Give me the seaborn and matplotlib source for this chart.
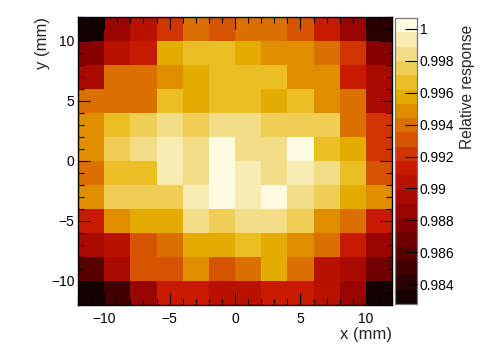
import numpy as np
import pandas as pd
import seaborn as sns
import matplotlib
matplotlib.use("Agg")
import matplotlib.pyplot as plt
from matplotlib.colors import ListedColormap
from matplotlib.ticker import FixedLocator

# x / y bin edges (mm)
x_edges = [-12, -10, -8, -6, -4, -2, 0, 2, 4, 6, 8, 10, 12]
y_edges = [12, 10, 8, 6, 4, 2, 0, -2, -4, -6, -8, -10, -12]  # rows listed top -> bottom

# relative response, rows from y=+12 (top) to y=-12 (bottom), columns from x=-12 to x=+12
row_y11 = [0.9832, 0.9886, 0.9904, 0.9922, 0.9940, 0.9931, 0.9940, 0.9940, 0.9931, 0.9913, 0.9886, 0.9841]
row_y9  = [0.9877, 0.9904, 0.9913, 0.9958, 0.9967, 0.9967, 0.9958, 0.9949, 0.9949, 0.9940, 0.9922, 0.9877]
row_y7  = [0.9895, 0.9940, 0.9940, 0.9949, 0.9958, 0.9967, 0.9967, 0.9967, 0.9949, 0.9949, 0.9913, 0.9895]
row_y5  = [0.9940, 0.9940, 0.9940, 0.9967, 0.9958, 0.9967, 0.9967, 0.9958, 0.9967, 0.9949, 0.9940, 0.9895]
row_y3  = [0.9949, 0.9967, 0.9975, 0.9984, 0.9975, 0.9984, 0.9984, 0.9975, 0.9975, 0.9975, 0.9940, 0.9922]
row_y1  = [0.9949, 0.9975, 0.9984, 0.9993, 0.9984, 1.0002, 0.9984, 0.9984, 1.0002, 0.9967, 0.9958, 0.9922]
row_ym1 = [0.9940, 0.9967, 0.9967, 0.9993, 0.9984, 1.0002, 0.9993, 0.9984, 0.9993, 0.9984, 0.9967, 0.9931]
row_ym3 = [0.9949, 0.9975, 0.9975, 0.9975, 0.9993, 1.0002, 0.9993, 1.0002, 0.9984, 0.9975, 0.9958, 0.9949]
row_ym5 = [0.9913, 0.9949, 0.9958, 0.9958, 0.9984, 0.9975, 0.9984, 0.9984, 0.9975, 0.9949, 0.9940, 0.9913]
row_ym7 = [0.9895, 0.9904, 0.9931, 0.9940, 0.9958, 0.9958, 0.9967, 0.9958, 0.9949, 0.9940, 0.9913, 0.9886]
row_ym9 = [0.9859, 0.9895, 0.9931, 0.9931, 0.9949, 0.9931, 0.9940, 0.9958, 0.9940, 0.9904, 0.9895, 0.9868]
row_ym11 = [0.9832, 0.9850, 0.9886, 0.9913, 0.9913, 0.9904, 0.9904, 0.9913, 0.9913, 0.9904, 0.9886, 0.9832]

z_min, z_max = 0.98277, 1.00067
cbar_ticks = [0.984, 0.986, 0.988, 0.990, 0.992, 0.994, 0.996, 0.998, 1.0]
cbar_ticklabels = ["0.984", "0.986", "0.988", "0.99", "0.992", "0.994", "0.996", "0.998", "1"]
x_ticks = [-10, -5, 0, 5, 10]
y_ticks = [10, 5, 0, -5, -10]

band_colors = [
    (20, 2, 2), (42, 0, 0), (65, 0, 0), (88, 0, 0), (112, 0, 0),
    (135, 0, 0), (152, 4, 0), (168, 10, 0), (185, 17, 0), (200, 26, 0),
    (208, 52, 0), (214, 84, 0), (219, 112, 0), (224, 142, 0), (228, 172, 0),
    (235, 190, 38), (240, 206, 85), (243, 222, 135), (248, 236, 178), (255, 251, 225),
]
cmap = ListedColormap([(r / 255, g / 255, b / 255) for r, g, b in band_colors])

rows = [row_y11, row_y9, row_y7, row_y5, row_y3, row_y1,
        row_ym1, row_ym3, row_ym5, row_ym7, row_ym9, row_ym11]
x_centers = [(a + b) / 2 for a, b in zip(x_edges[:-1], x_edges[1:])]
y_centers = [(a + b) / 2 for a, b in zip(y_edges[:-1], y_edges[1:])]
df = pd.DataFrame(rows, index=y_centers, columns=x_centers)

sns.set_theme(style="white", rc={"axes.axisbelow": False})
plt.rcParams["font.family"] = ["Liberation Sans", "DejaVu Sans"]

fig = plt.figure(figsize=(4.91, 3.51), dpi=100)
ax = fig.add_axes([78 / 491, 46 / 351, 314 / 491, 288 / 351])
cax = fig.add_axes([395 / 491, 47 / 351, 22 / 491, 286 / 351])

sns.heatmap(df, ax=ax, cbar_ax=cax, cmap=cmap, vmin=z_min, vmax=z_max,
            xticklabels=False, yticklabels=False, linewidths=0)
ax.set_axisbelow(False)
cax.set_axisbelow(False)

# heatmap uses cell index coordinates: convert mm to positions
nx, ny = len(x_centers), len(y_centers)
def xpos(v):
    return (v - x_edges[0]) / (x_edges[-1] - x_edges[0]) * nx
def ypos(v):
    return (y_edges[0] - v) / (y_edges[0] - y_edges[-1]) * ny

def fmt(v):
    return ("\u2212" + str(-v)) if v < 0 else str(v)

ax.xaxis.set_major_locator(FixedLocator([xpos(v) for v in x_ticks]))
ax.set_xticklabels([fmt(v) for v in x_ticks])
ax.xaxis.set_minor_locator(FixedLocator([xpos(v) for v in range(-12, 13)]))
ax.yaxis.set_major_locator(FixedLocator([ypos(v) for v in y_ticks]))
ax.set_yticklabels([fmt(v) for v in y_ticks], rotation=0)
ax.yaxis.set_minor_locator(FixedLocator([ypos(v) for v in range(-12, 13)]))

for s in ax.spines.values():
    s.set_visible(True)
    s.set_color("black")
    s.set_linewidth(1.0)
    s.set_zorder(5)

ax.tick_params(which="both", direction="in", top=True, right=True, bottom=True, left=True,
               color="black", labelsize=10, labelcolor="black", zorder=5)
ax.tick_params(which="major", length=8.5, width=0.8)
ax.tick_params(which="minor", length=4.3, width=0.8)
ax.tick_params(axis="x", which="major", pad=5)
ax.tick_params(axis="y", which="major", pad=2.5)

ax.set_xlabel("x (mm)", fontsize=12, loc="right", labelpad=0.5)
ax.set_ylabel("y (mm)", fontsize=12, loc="top", labelpad=1)

cax.set_yticks(cbar_ticks)
cax.set_yticklabels(cbar_ticklabels)
cax.tick_params(axis="y", which="both", direction="in", length=8.5, width=0.8,
                color="black", labelsize=10, pad=2, labelcolor="black", right=True)
cax.minorticks_off()
for s in cax.spines.values():
    s.set_visible(True)
    s.set_color("#777777")
    s.set_linewidth(0.8)
cax.set_ylabel("Relative response", fontsize=11.2, loc="top", labelpad=4)
cax.yaxis.label.set_y(0.975)

fig.savefig("out.png", dpi=100)
